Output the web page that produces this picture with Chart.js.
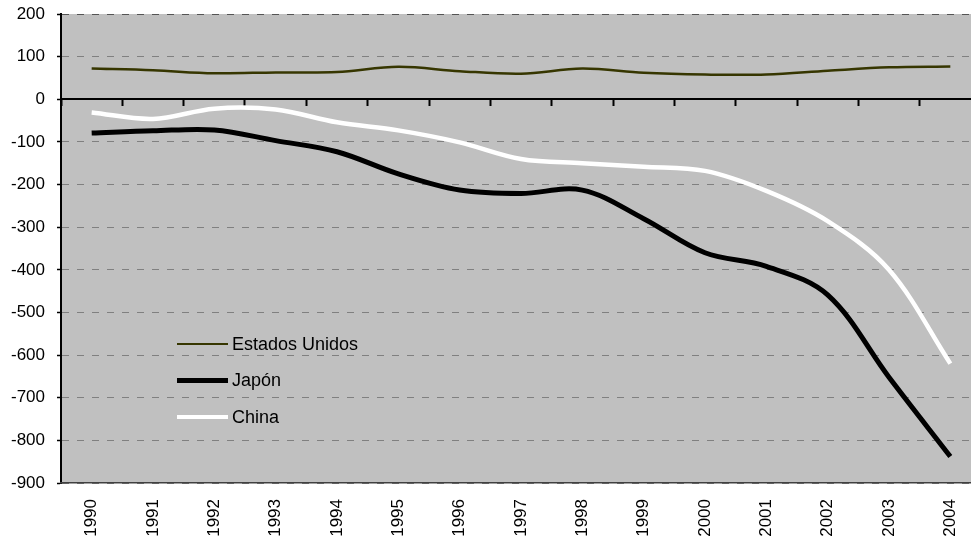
<!DOCTYPE html>
<html>
<head>
<meta charset="utf-8">
<script src="https://cdn.jsdelivr.net/npm/chart.js@4"></script>
<style>
  body { margin: 0; background: #fff; overflow: hidden; }
  #wrap { position: relative; width: 971px; height: 540px; overflow: hidden; }
  #legend { position: absolute; left: 177px; top: 326px; font-family: "Liberation Sans", Arial, sans-serif; font-size: 18px; color: #000; }
  .row { display: flex; align-items: center; height: 36.5px; }
  .swatch { width: 51px; margin-right: 4px; }
</style>
</head>
<body>
<div id="wrap">
  <canvas id="chart" width="984" height="540"></canvas>
  <div id="legend"></div>
</div>
<script>
// categorías y series
const years = ['1990', '1991', '1992', '1993', '1994', '1995', '1996', '1997', '1998', '1999', '2000', '2001', '2002', '2003', '2004'];
const estadosUnidos = [72, 68, 61, 63, 64, 76, 66, 60, 72, 62, 58, 58, 67, 75, 77];
const japon = [-79, -74, -72, -97, -123, -175, -213, -221, -213, -280, -360, -392, -459, -652, -838];
const china = [-31, -46, -22, -24, -54, -73, -101, -140, -150, -158, -168, -215, -286, -400, -620];
const seriesNames = ['Estados Unidos', 'Japón', 'China'];
const seriesColors = ['#363600', '#000000', '#ffffff'];
const seriesWidths = [2.5, 5, 4.5];
const yMin = -900, yMax = 200, yStep = 100;

const font = { family: '"Liberation Sans", Arial, sans-serif', size: 17 };

// fondo gris del área de trazado
const plotBg = {
    id: 'plotBg',
    beforeDraw(chart) {
        const a = chart.chartArea;
        const c = chart.ctx;
        c.save();
        c.fillStyle = '#c0c0c0';
        c.fillRect(a.left, a.top, a.right - a.left, a.bottom - a.top);
        c.restore();
    }
};

const allData = [estadosUnidos, japon, china];
const datasets = allData.map((d, i) => ({
    label: seriesNames[i],
    data: d,
    borderColor: seriesColors[i],
    backgroundColor: seriesColors[i],
    borderWidth: seriesWidths[i],
    pointRadius: 0,
    tension: 0.35,
    xAxisID: 'x',
    yAxisID: 'y'
}));

const ctx = document.getElementById('chart').getContext('2d');
const chart = new Chart(ctx, {
    type: 'line',
    data: { labels: years, datasets: datasets },
    plugins: [plotBg],
    options: {
        responsive: false,
        animation: false,
        layout: { padding: { top: 14, right: 3, left: 0, bottom: 0 } },
        plugins: { legend: { display: false }, tooltip: { enabled: false } },
        scales: {
            y: {
                min: yMin,
                max: yMax,
                afterFit(s) { s.width = 61; s.paddingTop = 0; s.paddingBottom = 0; },
                ticks: { stepSize: yStep, color: '#000', font: font, padding: 12 },
                grid: {
                    color: (c) => c.tick && c.tick.value === yMax ? '#555' : (c.tick && c.tick.value === 0 ? 'rgba(0,0,0,0)' : '#808080'),
                    lineWidth: 1,
                    tickLength: 4,
                    tickColor: '#000',
                    tickWidth: 1.5
                },
                border: { color: '#000', width: 2, dash: [7, 8] }
            },
            x: {
                type: 'category',
                position: 'bottom',
                offset: true,
                afterFit(s) { s.height = 57; s.paddingLeft = 0; s.paddingRight = 0; },
                grid: { display: false },
                border: { display: true, color: '#404040', width: 1.5 },
                ticks: { color: '#000', font: font, minRotation: 90, maxRotation: 90, autoSkip: false, padding: 8 }
            },
            x0: {
                type: 'category',
                labels: years,
                position: { y: 0 },
                offset: true,
                grid: { offset: true, drawOnChartArea: false, drawTicks: true, tickLength: 6, tickColor: '#000', tickWidth: 2 },
                border: { display: true, color: '#000', width: 2 },
                ticks: { display: false }
            }
        }
    }
});

// leyenda dentro del gráfico
const legend = document.getElementById('legend');
seriesNames.forEach((name, i) => {
    const row = document.createElement('div');
    row.className = 'row';
    const sw = document.createElement('span');
    sw.className = 'swatch';
    sw.style.borderTop = seriesWidths[i] + 'px solid ' + seriesColors[i];
    const txt = document.createElement('span');
    txt.textContent = name;
    row.appendChild(sw);
    row.appendChild(txt);
    legend.appendChild(row);
});
</script>
</body>
</html>
